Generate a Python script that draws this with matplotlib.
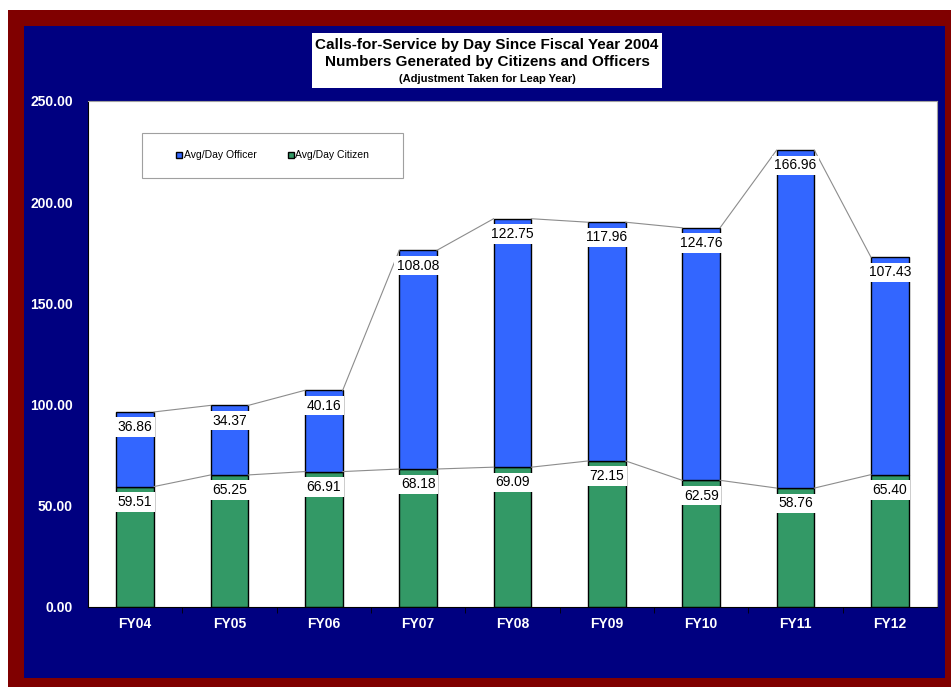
import numpy as np
import matplotlib
matplotlib.use("Agg")
import matplotlib.pyplot as plt
from matplotlib.patches import Rectangle, Patch
from matplotlib.ticker import FixedLocator, FormatStrFormatter

plt.rcParams['font.family'] = ['Liberation Sans', 'DejaVu Sans']

# fiscal years and per-day call averages
years = ["FY04", "FY05", "FY06", "FY07", "FY08", "FY09", "FY10", "FY11", "FY12"]
citizen = [59.51, 65.25, 66.91, 68.18, 69.09, 72.15, 62.59, 58.76, 65.40]
officer = [36.86, 34.37, 40.16, 108.08, 122.75, 117.96, 124.76, 166.96, 107.43]
yticks = [0, 50, 100, 150, 200, 250]

W, H = 951, 687
fig = plt.figure(figsize=(W/100, H/100), dpi=100)
fig.patch.set_facecolor("white")

def px_rect(x0, y0, x1, y1, color):
    # rectangle given in pixel coords measured from the top-left corner
    fig.patches.append(Rectangle((x0/W, 1-y1/H), (x1-x0)/W, (y1-y0)/H,
                                 transform=fig.transFigure, facecolor=color,
                                 edgecolor="none", zorder=-5))

px_rect(8, 10, 951, 687, "#800000")
px_rect(24, 26, 945, 678, "#000080")
px_rect(312, 33, 662, 88, "white")

fig.text(487/W, 1-44.5/H, "Calls-for-Service by Day Since Fiscal Year 2004",
         ha="center", va="center", fontsize=11, fontweight="bold", color="black")
fig.text(487/W, 1-62/H, "Numbers Generated by Citizens and Officers",
         ha="center", va="center", fontsize=11, fontweight="bold", color="black")
fig.text(487/W, 1-78.5/H, "(Adjustment Taken for Leap Year)",
         ha="center", va="center", fontsize=8, fontweight="bold", color="black")

ax = fig.add_axes([88/W, (H-607)/H, (937-88)/W, (607-101)/H])
ax.set_facecolor("white")

x = np.arange(len(years))
w = 0.4
citizen = np.array(citizen)
officer = np.array(officer)
total = citizen + officer

ax.bar(x, citizen, w, color="#339966", edgecolor="black", linewidth=1, zorder=2)
ax.bar(x, officer, w, bottom=citizen, color="#3366FF", edgecolor="black", linewidth=1, zorder=2)

# series lines joining the segment tops
for tops in (citizen, total):
    for i in range(len(x) - 1):
        ax.plot([x[i] + w/2, x[i+1] - w/2], [tops[i], tops[i+1]],
                color="#8c8c8c", lw=0.8, zorder=3)

for i in range(len(x)):
    for top, val in ((citizen[i], citizen[i]), (total[i], officer[i])):
        ax.annotate("%.2f" % val, (x[i], top), xytext=(0, -11), textcoords="offset points",
                    ha="center", va="center", fontsize=10, color="black", zorder=4,
                    bbox=dict(boxstyle="square,pad=0.2", facecolor="white", edgecolor="none"))

ax.set_xlim(-0.5, len(years) - 0.5)
ax.set_ylim(0, 250)
ax.set_xticks(x)
ax.set_xticklabels(years, fontsize=10, fontweight="bold", color="white")
ax.xaxis.set_minor_locator(FixedLocator(np.arange(0.5, len(years) - 1, 1.0)))
ax.tick_params(axis="x", which="major", length=0, pad=7)
ax.tick_params(axis="x", which="minor", length=4, direction="out", color="black")
ax.set_yticks(yticks)
ax.yaxis.set_major_formatter(FormatStrFormatter("%.2f"))
ax.tick_params(axis="y", length=0, pad=11, labelsize=10, labelcolor="white")
for lab in ax.get_yticklabels():
    lab.set_fontweight("bold")

ax.spines["left"].set_color("black")
ax.spines["bottom"].set_color("black")
ax.spines["top"].set_color("#a0a0a0")
ax.spines["right"].set_color("#a0a0a0")

# legend frame drawn as its own box, entries centred inside it
ax_w, ax_h = 937 - 88, 607 - 101
lx0, lx1, ly0, ly1 = 142, 403, 133, 178
ax.add_patch(Rectangle(((lx0-88)/ax_w, 1-(ly1-101)/ax_h), (lx1-lx0)/ax_w, (ly1-ly0)/ax_h,
                       transform=ax.transAxes, facecolor="white", edgecolor="#a0a0a0",
                       linewidth=0.8, zorder=5))
handles = [Patch(facecolor="#3366FF", edgecolor="black", label="Avg/Day Officer"),
           Patch(facecolor="#339966", edgecolor="black", label="Avg/Day Citizen")]
leg = ax.legend(handles=handles, ncol=2, loc="center",
                bbox_to_anchor=(((lx0+lx1)/2-88)/ax_w, 1-((ly0+ly1)/2-101)/ax_h),
                fontsize=7.5, frameon=False,
                handlelength=0.6, handleheight=0.6, handletextpad=0.15,
                columnspacing=3.0, borderpad=0, borderaxespad=0)
leg.set_zorder(6)

fig.savefig("out.png", dpi=100)
